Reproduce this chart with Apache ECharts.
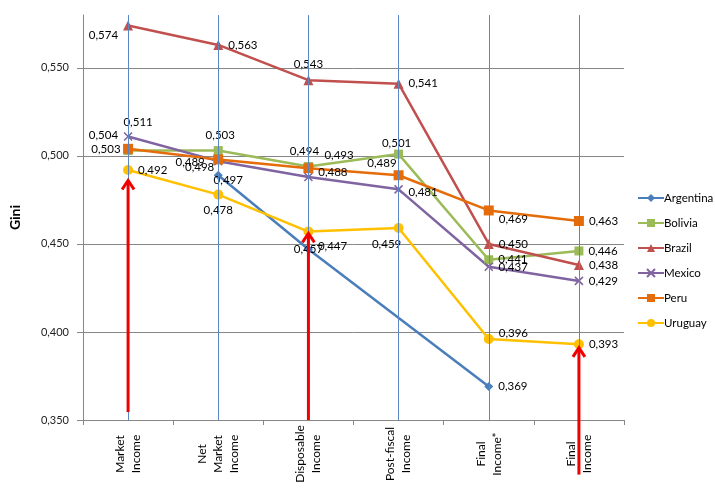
<!DOCTYPE html>
<html><head><meta charset="utf-8">
<script src="https://cdn.jsdelivr.net/npm/echarts@6/dist/echarts.min.js"></script>
<style>html,body{margin:0;padding:0;background:#fff}#c{width:715px;height:490px}</style>
</head><body><div id="c"></div>
<script>
// ---- data ----
const categories = ['Market\nIncome','Net\nMarket\nIncome','Disposable\nIncome','Post-fiscal\nIncome','Final\nIncome*','Final\nIncome'];
const seriesNames = ['Argentina','Bolivia','Brazil','Mexico','Peru','Uruguay'];
const argentina = [null, 0.489, 0.447, null, 0.369, null];
const bolivia   = [0.503, 0.503, 0.494, 0.501, 0.441, 0.446];
const brazil    = [0.574, 0.563, 0.543, 0.541, 0.450, 0.438];
const mexico    = [0.511, 0.497, 0.488, 0.481, 0.437, 0.429];
const peru      = [0.504, 0.498, 0.493, 0.489, 0.469, 0.463];
const uruguay   = [0.492, 0.478, 0.457, 0.459, 0.396, 0.393];
const yMin = 0.35, yMax = 0.58, yStep = 0.05;
// red arrows: category index, start value, tip value
const arrowCats = [0, 2, 5];
const arrowFrom = [0.3545, 0.350, 0.319];
const arrowTo   = [0.486, 0.456, 0.391];

// ---- styles / label placement (not data) ----
const colors = ['#4a7ebb','#9bbb59','#c0504d','#8064a2','#e46c0a','#ffc000'];
const symbols = ['diamond','rect','triangle','path://M0,0 L10,10 M10,0 L0,10','rect','circle'];
const symSizes = [9, 9, 10, 8, 10, 10];
const placements = [
  [null, ['left',-4,-13], ['right',0,-3], null, ['right',0,0], null],
  [['left',2,-1], ['top',2,0], ['top',-4,0], ['top',-2,5], ['right',0,0], ['right',0,0]],
  [['left',0,10], ['right',0,0], ['top',0,0], ['right',0,0], ['right',0,0], ['right',0,0]],
  [['top',10,2], ['bottom',10,3], ['right',0,-5], ['right',0,3], ['right',0,0], ['right',0,0]],
  [['left',0,-14], ['left',6,8], ['right',6,-13], ['left',8,-12], ['right',0,9], ['right',0,0]],
  [['right',0,0], ['bottom',0,0], ['bottom',0,2], ['bottom',-12,0], ['right',0,-6], ['right',0,0]]
];
const values = [argentina, bolivia, brazil, mexico, peru, uruguay];
const FONT = 'Lato, "Open Sans", sans-serif';
const fmt = v => v.toFixed(3).replace('.', ',');

const lineSeries = values.map((vals, si) => ({
  name: seriesNames[si],
  type: 'line',
  connectNulls: true,
  z: 3,
  symbol: symbols[si],
  symbolSize: symSizes[si],
  lineStyle: { color: colors[si], width: 2.5 },
  itemStyle: si === 3 ? { color: colors[si], borderColor: colors[si], borderWidth: 1.6 } : { color: colors[si] },
  emphasis: { disabled: true },
  data: vals.map((v, i) => {
    if (v === null) return null;
    const p = placements[si][i] || ['right',0,0];
    return { value: v, label: { position: p[0], offset: [p[1], p[2]] } };
  }),
  label: {
    show: true, distance: 5, color: '#000', fontSize: 11.5, fontFamily: FONT,
    formatter: p => fmt(p.value)
  }
}));

const chart = echarts.init(document.getElementById('c'), null, { renderer: 'canvas' });
chart.setOption({
  animation: false,
  backgroundColor: '#fff',
  grid: { left: 77, right: 91, top: 15, bottom: 70 },
  legend: {
    orient: 'vertical', left: 632, top: 187,
    itemWidth: 26, itemHeight: 10, itemGap: 13,
    data: seriesNames,
    textStyle: { fontSize: 11.5, color: '#000', fontFamily: FONT, padding: [0,0,0,-5] }
  },
  xAxis: {
    type: 'category', data: categories, boundaryGap: true,
    axisLine: { lineStyle: { color: '#868686', width: 1 } },
    axisTick: { show: true, length: 5, lineStyle: { color: '#868686' } },
    axisLabel: { rotate: 90, align: 'center', verticalAlign: 'middle', margin: 34, interval: 0,
      fontSize: 12, lineHeight: 16, color: '#000', fontFamily: FONT },
    splitLine: { show: false }
  },
  yAxis: {
    type: 'value', min: yMin, max: yMax, interval: yStep,
    name: 'Gini', nameLocation: 'middle', nameGap: 61,
    nameTextStyle: { fontSize: 14, fontWeight: 'bold', color: '#000', fontFamily: FONT },
    axisLine: { show: true, lineStyle: { color: '#868686', width: 1 } },
    axisTick: { show: true, length: 6, lineStyle: { color: '#868686' } },
    axisLabel: { formatter: v => fmt(v), margin: 14, fontSize: 11, color: '#222', fontFamily: FONT, showMaxLabel: false },
    splitLine: { show: true, showMaxLine: false, lineStyle: { color: '#868686', width: 1 } }
  },
  series: [{
    name: 'vlines', type: 'line', data: [], z: 1,
    markLine: {
      silent: true, symbol: 'none', animation: false,
      label: { show: false },
      lineStyle: { color: '#5b87c5', width: 1, type: 'solid' },
      data: categories.map((c, i) => ({ xAxis: i }))
    }
  }].concat(lineSeries)
});

const arrowEls = arrowCats.map((ci, k) => {
  const p0 = chart.convertToPixel({ xAxisIndex: 0, yAxisIndex: 0 }, [ci, arrowFrom[k]]);
  const p1 = chart.convertToPixel({ xAxisIndex: 0, yAxisIndex: 0 }, [ci, arrowTo[k]]);
  return {
    type: 'group', z: 100, children: [
      { type: 'line', z: 100, shape: { x1: p0[0], y1: p0[1], x2: p1[0], y2: p1[1] + 1 }, style: { stroke: '#f00000', lineWidth: 3 } },
      { type: 'polyline', z: 100, shape: { points: [[p1[0] - 6, p1[1] + 9], [p1[0], p1[1]], [p1[0] + 6, p1[1] + 9]] }, style: { stroke: '#f00000', lineWidth: 3, fill: null } }
    ]
  };
});
chart.setOption({ graphic: arrowEls });
</script>
</body></html>
